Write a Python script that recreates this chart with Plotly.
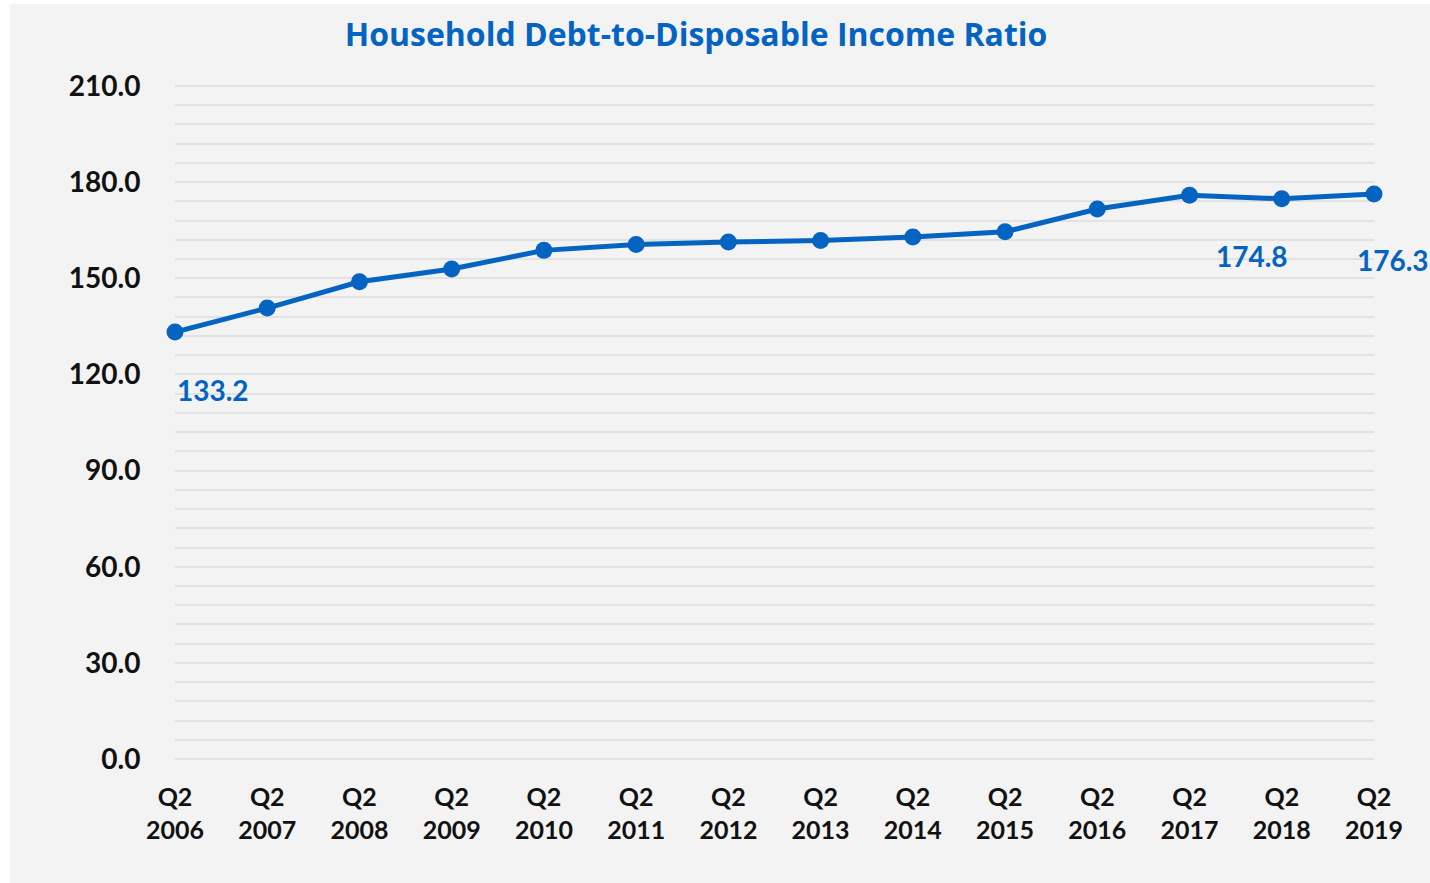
import plotly.graph_objects as go

quarters = ["Q2", "Q2", "Q2", "Q2", "Q2", "Q2", "Q2", "Q2", "Q2", "Q2", "Q2", "Q2", "Q2", "Q2"]
years = ["2006", "2007", "2008", "2009", "2010", "2011", "2012", "2013", "2014", "2015",
         "2016", "2017", "2018", "2019"]
ratio = [133.2, 140.7, 148.9, 152.9, 158.7, 160.5, 161.3, 161.8, 162.9, 164.5,
         171.6, 175.9, 174.8, 176.3]
y_ticks = [0, 30, 60, 90, 120, 150, 180, 210]
labelled = {0: (38, -58), 12: (-30, -57), 13: (19, -66)}

BLUE = "#0563C1"
BG = "#f3f3f3"
GRID = "#e2e2e2"

xs = list(range(len(years)))
ticktext = [f"{q}<br>{y}" for q, y in zip(quarters, years)]

fig = go.Figure()
fig.add_trace(go.Scatter(
    x=xs, y=ratio, mode="lines+markers",
    line=dict(color=BLUE, width=5),
    marker=dict(color=BLUE, size=17),
    cliponaxis=False, hoverinfo="skip", showlegend=False,
))

for i, (dx, dy) in labelled.items():
    fig.add_annotation(
        x=xs[i], y=ratio[i], text=f"{ratio[i]:.1f}", showarrow=False,
        xshift=dx, yshift=dy, xanchor="center", yanchor="middle",
        font=dict(family="Lato", size=28, color=BLUE, weight="bold"),
    )

W, H = 1430, 883
PAD = 0.6  # small y padding so gridlines at 0 and 210 are drawn
PX_PER_UNIT = 3.205
L, R = 175, 56
T = int(round(86 - PAD * PX_PER_UNIT))
B = int(round(H - 759 - PAD * PX_PER_UNIT))
pw, ph = W - L - R, H - T - B
# gray panel (10..1430, 4..883) in paper coordinates
fig.add_shape(
    type="rect", xref="paper", yref="paper", layer="below",
    x0=(10 - L) / pw, x1=(1432 - L) / pw,
    y0=(H - B - 885) / ph, y1=(H - B - 4) / ph,
    fillcolor=BG, line=dict(width=0),
)

fig.update_layout(
    width=W, height=H,
    margin=dict(l=L, r=R, t=T, b=B, pad=0),
    paper_bgcolor="white", plot_bgcolor=BG,
    title=dict(
        text="Household Debt-to-Disposable Income Ratio",
        x=696 / W, xanchor="center", xref="container",
        y=1 - 35 / H, yanchor="middle", yref="container",
        font=dict(family="Open Sans", size=32, color=BLUE, weight="bold"),
    ),
    xaxis=dict(
        range=[0, len(years) - 1], tickvals=xs, ticktext=ticktext,
        showgrid=False, zeroline=False, showline=False,
        ticks="outside", ticklen=14, tickcolor="rgba(0,0,0,0)",
        tickfont=dict(family="Lato", size=25, color="#111111", weight="bold"),
        fixedrange=True,
    ),
    yaxis=dict(
        range=[-PAD, 210 + PAD], tickvals=y_ticks, ticktext=[f"{v:.1f}" for v in y_ticks],
        showgrid=True, gridcolor=GRID, gridwidth=2,
        minor=dict(tick0=0, dtick=6, showgrid=True, gridcolor=GRID, gridwidth=2),
        zeroline=False, showline=False,
        ticks="outside", ticklen=28, tickcolor="rgba(0,0,0,0)",
        tickfont=dict(family="Lato", size=28, color="#111111", weight="bold"),
        fixedrange=True,
    ),
)

fig.write_html("out.html")
